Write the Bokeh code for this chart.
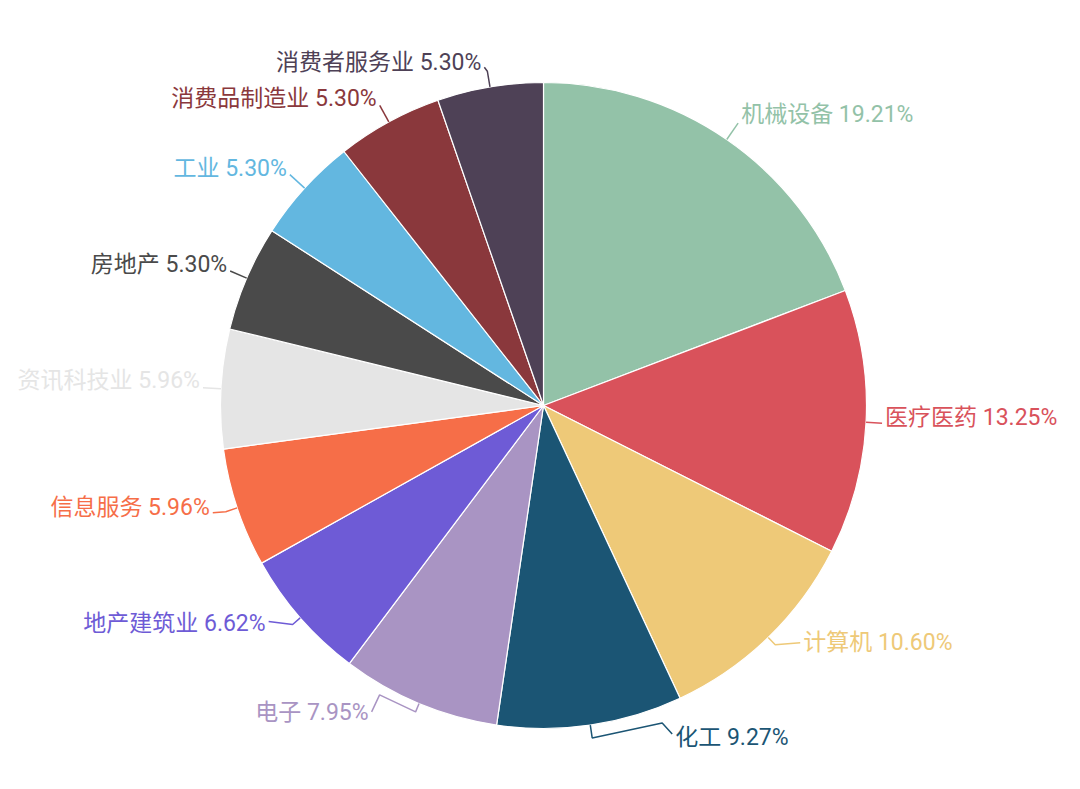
import math
from bokeh.plotting import figure
from bokeh.models import Range1d, ColumnDataSource
from bokeh.core.properties import value
from bokeh.embed import file_html
from bokeh.resources import INLINE

# ---- data ----
categories = ["机械设备", "医疗医药", "计算机", "化工", "电子", "地产建筑业",
              "信息服务", "资讯科技业", "房地产", "工业", "消费品制造业", "消费者服务业"]
shares = [19.21, 13.25, 10.60, 9.27, 7.95, 6.62, 5.96, 5.96, 5.30, 5.30, 5.30, 5.30]
colors = ["#93C2A8", "#D9525B", "#EEC978", "#1B5574", "#A994C3", "#6E5BD6",
          "#F66E48", "#E5E5E5", "#4A4A4A", "#63B7E0", "#8A383C", "#4E4156"]

# ---- label layout tweaks (screen px, y down) ----
lead_r  = [20, 16, 10, 13, 9, 10, 12, 18, 18, 20, 19, 16]   # radial segment
lead_h  = [0, 0, 25, 80, 44, 24, 13, 0, 0, 0, 0, 3]         # horizontal segment
lead_dy = [0, 0, -2, -4, 0, -3, 1, 0, 0, 0, 0, -4]          # end vertical shift
kink_dx = [0, 0, 0, -10, 8, 0, 0, 0, 0, 0, 0, 0]            # extra bend, rel. to end
kink_dy = [0, 0, 0, -11, -17, 0, 0, 0, 0, 0, 0, 0]
text_dy = [-9, -6, 0, 4, 1, 2, -5, -7, -6, -6, -7, -5]

W, H = 1064, 773
p = figure(width=W, height=H, output_backend="svg", toolbar_location=None,
           x_range=Range1d(0, W), y_range=Range1d(0, H), min_border=0)
p.axis.visible = False
p.grid.visible = False
p.outline_line_color = None
p.background_fill_color = "white"
p.border_fill_color = "white"

cx, cy, R = 543, 368, 323
total = sum(shares)

starts, ends, mids = [], [], []
c = 0.0
for s in shares:
    a0 = math.pi / 2 - 2 * math.pi * c / total
    a1 = math.pi / 2 - 2 * math.pi * (c + s) / total
    starts.append(a0)
    ends.append(a1)
    mids.append((a0 + a1) / 2)
    c += s

src = ColumnDataSource(dict(start=starts, end=ends, color=colors))
p.wedge(x=cx, y=cy, radius=R, start_angle="start", end_angle="end",
        direction="clock", fill_color="color", line_color="white", line_width=1.2,
        source=src)

xs, ys = [], []
lab = {"left": dict(x=[], y=[], t=[], c=[]), "right": dict(x=[], y=[], t=[], c=[])}
for i, th in enumerate(mids):
    dx, dy = math.cos(th), math.sin(th)
    ex, ey = cx + R * dx, cy + R * dy
    bx, by = cx + (R + lead_r[i]) * dx, cy + (R + lead_r[i]) * dy
    side = 1 if dx > 0 else -1
    endx, endy = bx + side * lead_h[i], by - lead_dy[i]
    kx, ky = endx + kink_dx[i], endy - kink_dy[i]
    xs.append([ex, bx, kx, endx])
    ys.append([ey, by, ky, endy])
    key = "left" if side > 0 else "right"
    lab[key]["x"].append(endx + side * 3)
    lab[key]["y"].append(endy - text_dy[i])
    lab[key]["t"].append(f"{categories[i]} {shares[i]:.2f}%")
    lab[key]["c"].append(colors[i])

p.multi_line(xs=xs, ys=ys, line_color=colors, line_width=1.5)

font = value("Roboto, 'Noto Sans CJK SC'")
for align, d in lab.items():
    p.text(x=d["x"], y=d["y"], text=d["t"], text_color=d["c"], text_align=align,
           text_baseline="middle", text_font=font, text_font_size="23px")

open("out.html", "w").write(file_html(p, INLINE))
